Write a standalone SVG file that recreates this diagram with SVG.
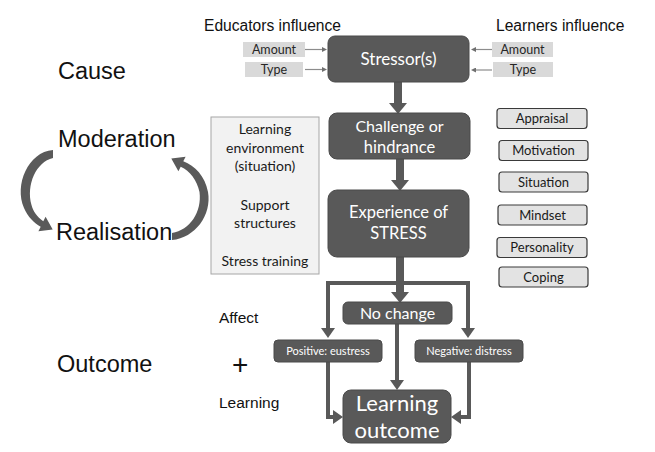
<svg xmlns="http://www.w3.org/2000/svg" width="655" height="452" viewBox="0 0 655 452">
<defs>
<style>
.lbl{font-family:"Liberation Sans",Arial,sans-serif;fill:#111}
.big{font-size:23.5px}
.med{font-size:15.6px}
.dark{fill:#595959;stroke:#4a4a4a;stroke-width:1}
.wt{font-family:Lato,"Open Sans",sans-serif;fill:#fff;text-anchor:middle}
.gbox{fill:#d9d9d9}
.gt{font-family:Lato,"Open Sans",sans-serif;font-size:12.5px;fill:#262626;text-anchor:middle}
.sbox{fill:#e3e3e3;stroke:#3a3a3a;stroke-width:1.2}
.st{font-family:Lato,"Open Sans",sans-serif;font-size:13px;fill:#1a1a1a;text-anchor:middle}
.lt{font-family:Lato,"Open Sans",sans-serif;font-size:14px;fill:#1a1a1a;text-anchor:middle}
.thin{stroke:#8c8c8c;stroke-width:1.2;fill:none}
.thick{stroke:#595959;stroke-width:8;fill:none}
.mid{stroke:#595959;stroke-width:4;fill:none;stroke-linejoin:miter}
</style>
<marker id="hBig" markerUnits="userSpaceOnUse" markerWidth="11" markerHeight="18" viewBox="0 0 11 18" refX="0" refY="9" orient="auto"><path d="M0,0 L11,9 L0,18 Z" fill="#595959"/></marker>
<marker id="hMid" markerUnits="userSpaceOnUse" markerWidth="10" markerHeight="14" viewBox="0 0 10 14" refX="0" refY="7" orient="auto"><path d="M0,0 L10,7 L0,14 Z" fill="#595959"/></marker>
<marker id="hSm" markerUnits="userSpaceOnUse" markerWidth="5" markerHeight="5" viewBox="0 0 5 5" refX="0" refY="2.5" orient="auto"><path d="M0,0 L5,2.5 L0,5 Z" fill="#707070"/></marker>
</defs>
<rect width="655" height="452" fill="#fff"/>

<!-- side labels -->
<g id="labels">
<text class="lbl big" x="58" y="79">Cause</text>
<text class="lbl big" x="58" y="147">Moderation</text>
<text class="lbl big" x="56" y="240">Realisation</text>
<text class="lbl big" x="57" y="372">Outcome</text>
<text class="lbl med" x="204" y="31">Educators influence</text>
<text class="lbl med" x="496" y="31">Learners influence</text>
<text class="lbl" style="font-size:15.5px" x="219" y="323">Affect</text>
<text class="lbl" style="font-size:28px" x="232" y="374">+</text>
<text class="lbl" style="font-size:15.5px" x="219" y="408">Learning</text>
</g>

<!-- curved arrows -->
<g id="cycle" fill="#5a5a5a">
<path d="M53,150 C28,152 14,185 24,208 C28,217 34,223 40.7,226.7 L38.4,231.2 L52.7,229.4 L45.6,216.8 L43.3,221.3 C37,217 33,211 31.5,205 C26,185 36,162 53,158 Z"/>
<path d="M172,240 C195,238 212,215 208,192 C205,176 195,166 183.3,161.3 L185.6,156.8 L171.3,158.6 L178.4,171.2 L180.7,166.7 C190,171 197,180 199.5,192 C202,212 190,230 172,233 Z"/>
</g>

<!-- connectors -->
<g id="connectors">
<line class="thin" x1="305" y1="49.5" x2="322" y2="49.5" marker-end="url(#hSm)"/>
<line class="thin" x1="305" y1="69.5" x2="322" y2="69.5" marker-end="url(#hSm)"/>
<line class="thin" x1="492" y1="49.5" x2="476" y2="49.5" marker-end="url(#hSm)"/>
<line class="thin" x1="492" y1="70" x2="476" y2="70" marker-end="url(#hSm)"/>
<line class="thick" x1="398" y1="82" x2="398" y2="103" marker-end="url(#hBig)"/>
<line class="thick" x1="400" y1="159" x2="400" y2="180" marker-end="url(#hBig)"/>
<path class="mid" d="M400,283 L328,283 L328,328" marker-end="url(#hMid)"/>
<path class="mid" d="M400,283 L468,283 L468,328" marker-end="url(#hMid)"/>
<line class="thick" x1="400" y1="257" x2="400" y2="292" marker-end="url(#hBig)"/>
<path class="mid" d="M328,362 L328,417 L333,417" marker-end="url(#hMid)"/>
<line class="mid" x1="397" y1="324" x2="397" y2="380" marker-end="url(#hMid)"/>
<path class="mid" d="M469,362 L469,417 L461,417" marker-end="url(#hMid)"/>
</g>

<!-- inputs -->
<g id="edu-amount"><rect class="gbox" x="243" y="42" width="62" height="15"/><text class="gt" x="274" y="54">Amount</text></g>
<g id="edu-type"><rect class="gbox" x="245" y="62" width="58" height="15"/><text class="gt" x="274" y="74">Type</text></g>
<g id="lrn-amount"><rect class="gbox" x="492" y="42" width="61" height="15"/><text class="gt" x="522.5" y="54">Amount</text></g>
<g id="lrn-type"><rect class="gbox" x="493" y="62" width="60" height="15"/><text class="gt" x="523" y="74">Type</text></g>

<!-- main nodes -->
<g id="stressor"><rect class="dark" x="328" y="36" width="141" height="46" rx="7"/><text class="wt" style="font-size:17px" x="398.5" y="65">Stressor(s)</text></g>
<g id="challenge"><rect class="dark" x="329" y="113" width="141" height="46" rx="8"/><text class="wt" style="font-size:16px" x="399.5" y="132">Challenge or</text><text class="wt" style="font-size:16.5px" x="399.5" y="153">hindrance</text></g>
<g id="experience"><rect class="dark" x="328" y="190" width="141" height="67" rx="9"/><text class="wt" style="font-size:16.5px" x="398.5" y="218">Experience of</text><text class="wt" style="font-size:16.5px" x="398.5" y="239">STRESS</text></g>
<g id="nochange"><rect class="dark" x="343" y="302" width="109" height="22" rx="5"/><text class="wt" style="font-size:16px" x="397.5" y="319">No change</text></g>
<g id="positive"><rect class="dark" x="274" y="340" width="108" height="22" rx="4"/><text class="wt" style="font-size:11px" x="328" y="355">Positive: eustress</text></g>
<g id="negative"><rect class="dark" x="415" y="340" width="108" height="22" rx="4"/><text class="wt" style="font-size:11px" x="469" y="355">Negative: distress</text></g>
<g id="outcome"><rect class="dark" x="343" y="390" width="108" height="53" rx="8"/><text class="wt" style="font-size:22px" x="397" y="411">Learning</text><text class="wt" style="font-size:22px" x="397" y="438">outcome</text></g>

<!-- moderators box -->
<g id="moderators">
<rect x="211" y="117" width="108" height="157" fill="#f2f2f2" stroke="#a6a6a6" stroke-width="1"/>
<text class="lt" x="265" y="134">Learning</text>
<text class="lt" x="265" y="153">environment</text>
<text class="lt" x="265" y="171">(situation)</text>
<text class="lt" x="265" y="210">Support</text>
<text class="lt" x="265" y="228">structures</text>
<text class="lt" x="265" y="266">Stress training</text>
</g>

<!-- side factors -->
<g id="appraisal"><rect class="sbox" x="497" y="108.5" width="90" height="20" rx="3"/><text class="st" x="542" y="123">Appraisal</text></g>
<g id="motivation"><rect class="sbox" x="499" y="140.5" width="89" height="20" rx="3"/><text class="st" x="543.5" y="155">Motivation</text></g>
<g id="situation"><rect class="sbox" x="499" y="172" width="89" height="20" rx="3"/><text class="st" x="543.5" y="186.5">Situation</text></g>
<g id="mindset"><rect class="sbox" x="498" y="205" width="89" height="20" rx="3"/><text class="st" x="542.5" y="219.5">Mindset</text></g>
<g id="personality"><rect class="sbox" x="497" y="237.5" width="90" height="20" rx="3"/><text class="st" x="542" y="252">Personality</text></g>
<g id="coping"><rect class="sbox" x="499" y="267" width="89" height="20" rx="3"/><text class="st" x="543.5" y="281.5">Coping</text></g>
</svg>
